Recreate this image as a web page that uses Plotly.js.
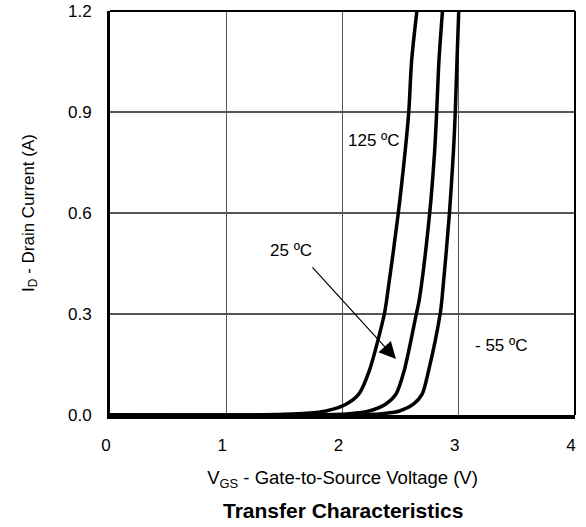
<!DOCTYPE html>
<html>
<head>
<meta charset="utf-8">
<script src="https://cdn.plot.ly/plotly-3.0.1.min.js"></script>
<style>html,body{margin:0;padding:0;background:#fff;}#chart{width:586px;height:527px;}</style>
</head>
<body>
<div id="chart"></div>
<script>
// Transfer characteristics: V_GS (V) vs I_D (A)
const vgs125 = [0, 1.2, 1.5, 1.69, 1.86, 2.03, 2.14, 2.23, 2.36, 2.38, 2.48, 2.54, 2.57, 2.595, 2.64];
const id125  = [0, 0, 0.002, 0.005, 0.012, 0.032, 0.062, 0.131, 0.30, 0.342, 0.60, 0.787, 0.90, 1.054, 1.2];

const vgs25 = [0, 1.7, 2.06, 2.23, 2.37, 2.46, 2.53, 2.635, 2.66, 2.75, 2.793, 2.81, 2.83, 2.86];
const id25  = [0, 0, 0.004, 0.012, 0.032, 0.062, 0.131, 0.30, 0.342, 0.60, 0.787, 0.90, 1.054, 1.2];

const vgsM55 = [0, 2.0, 2.34, 2.49, 2.61, 2.685, 2.74, 2.84, 2.855, 2.92, 2.955, 2.97, 2.985, 3.00];
const idM55  = [0, 0, 0.004, 0.012, 0.032, 0.062, 0.131, 0.30, 0.342, 0.60, 0.787, 0.90, 1.054, 1.2];

const xTicks = [0, 1, 2, 3, 4];
const yTicks = [0.0, 0.3, 0.6, 0.9, 1.2];
const yTickText = ['0.0', '0.3', '0.6', '0.9', '1.2'];

const labels = [
  {text: '125 ºC', x: 2.27, y: 0.815},
  {text: '25 ºC', x: 1.56, y: 0.49},
  {text: '- 55 ºC', x: 3.37, y: 0.205}
];
const arrow25 = {tailX: 1.73, tailY: 0.443, headX: 2.46, headY: 0.166};

const FONT = 'Liberation Sans, Arial, Helvetica, sans-serif';
const lineStyle = {color: '#000', width: 3.5, shape: 'spline', smoothing: 0.8};

const traces = [
  {x: vgs125, y: id125, name: '125 ºC', mode: 'lines', line: lineStyle, hoverinfo: 'x+y'},
  {x: vgs25, y: id25, name: '25 ºC', mode: 'lines', line: lineStyle, hoverinfo: 'x+y'},
  {x: vgsM55, y: idM55, name: '- 55 ºC', mode: 'lines', line: lineStyle, hoverinfo: 'x+y'}
];

const annotations = labels.map(l => ({
  text: l.text, x: l.x, y: l.y, xref: 'x', yref: 'y', showarrow: false,
  font: {family: FONT, size: 17, color: '#000'}
}));
annotations.push({
  text: '', x: arrow25.headX, y: arrow25.headY, ax: arrow25.tailX, ay: arrow25.tailY,
  xref: 'x', yref: 'y', axref: 'x', ayref: 'y', showarrow: true,
  arrowhead: 2, arrowsize: 2.8, arrowwidth: 1.2, arrowcolor: '#000', standoff: 0, startstandoff: 0
});
annotations.push({
  text: '<b>Transfer Characteristics</b>', xref: 'paper', yref: 'paper',
  x: 0.5, y: -0.237, xanchor: 'center', yanchor: 'middle', showarrow: false,
  font: {family: FONT, size: 21, color: '#000'}
});

const layout = {
  width: 586, height: 527,
  margin: {l: 110, r: 11, t: 11, b: 112},
  paper_bgcolor: '#fff', plot_bgcolor: '#fff',
  showlegend: false,
  font: {family: FONT, size: 17, color: '#000'},
  xaxis: {
    range: [0, 4], tickvals: xTicks, ticktext: xTicks.map(String),
    ticks: 'outside', ticklen: 12, tickcolor: 'rgba(0,0,0,0)', ticklabelshift: -4,
    showgrid: true, gridcolor: '#555', gridwidth: 1.3, zeroline: false,
    showline: true, linecolor: '#000', linewidth: 3.5,
    tickfont: {family: FONT, size: 17, color: '#000'},
    title: {text: 'V<sub>GS</sub> - Gate-to-Source Voltage (V)', standoff: 18,
            font: {family: FONT, size: 18.5, color: '#000'}},
    fixedrange: true
  },
  yaxis: {
    range: [0, 1.2], tickvals: yTicks, ticktext: yTickText,
    ticks: 'outside', ticklen: 12, tickcolor: 'rgba(0,0,0,0)',
    showgrid: true, gridcolor: '#555', gridwidth: 1.3, zeroline: false,
    showline: true, linecolor: '#000', linewidth: 3,
    tickfont: {family: FONT, size: 17, color: '#000'},
    title: {text: 'I<sub>D</sub> - Drain Current (A)', standoff: 30,
            font: {family: FONT, size: 17, color: '#000'}},
    fixedrange: true
  },
  shapes: [
    {type: 'line', xref: 'paper', yref: 'paper', x0: 0, x1: 1, y0: 1, y1: 1, line: {color: '#000', width: 2}},
    {type: 'line', xref: 'paper', yref: 'paper', x0: 1, x1: 1, y0: 0, y1: 1, line: {color: '#000', width: 2}}
  ],
  annotations: annotations
};

Plotly.newPlot('chart', traces, layout, {displayModeBar: false, staticPlot: true});
</script>
</body>
</html>
